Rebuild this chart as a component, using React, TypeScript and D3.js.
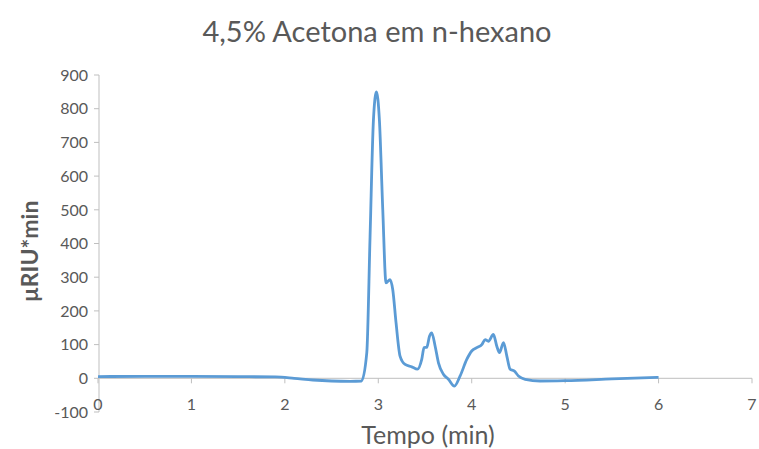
import React from 'react';
import * as d3 from 'd3';

const times = [0, 0.5, 1, 1.5, 1.9, 2.1, 2.3, 2.5, 2.7, 2.82, 2.877, 2.912, 2.948, 2.98, 3.012, 3.048, 3.083, 3.126, 3.155, 3.19, 3.233, 3.287, 3.358, 3.419, 3.465, 3.49, 3.519, 3.548, 3.572, 3.608, 3.644, 3.697, 3.751, 3.815, 3.876, 3.947, 4.0, 4.054, 4.108, 4.143, 4.179, 4.232, 4.268, 4.297, 4.34, 4.376, 4.411, 4.454, 4.5, 4.572, 4.732, 5.0, 5.5, 6.0];
const signal = [5, 6, 6, 5, 4, 0, -5, -8, -9, -8, 76, 421, 766, 850, 766, 500, 283, 293, 263, 165, 66, 41, 34, 27, 56, 91, 92, 125, 135, 96, 46, 12, -3, -23, 7, 56, 81, 91, 100, 115, 110, 130, 96, 76, 106, 66, 27, 22, 7, -3, -8, -7, -2, 3];
const xTicks = [0, 1, 2, 3, 4, 5, 6, 7];
const yTicks = [-100, 0, 100, 200, 300, 400, 500, 600, 700, 800, 900];

const W = 759;
const H = 449;
const margin = { left: 99, right: 7, top: 75, bottom: 37 };

export default function App() {
  const x = d3.scaleLinear().domain([0, 7]).range([margin.left - 1, W - margin.right]);
  const y = d3.scaleLinear().domain([-100, 900]).range([H - margin.bottom, margin.top]);
  const pts = times.map((t, i) => [t, signal[i]] as [number, number]);
  const line = d3.line<[number, number]>()
    .x(d => x(d[0]))
    .y(d => y(d[1]))
    .curve(d3.curveMonotoneX);

  const font = 'Lato, "Open Sans", sans-serif';
  const axisX = margin.left;

  return (
    <svg width={W} height={H} style={{ position: 'absolute', left: 0, top: 0, background: '#fff' }} fontFamily={font}>
      <text x={377} y={42} textAnchor="middle" fontSize={29} fill="#595959">4,5% Acetona em n-hexano</text>

      {/* y axis */}
      <line x1={axisX} x2={axisX} y1={y(900)} y2={y(-100)} stroke="#BFBFBF" strokeWidth={1} />
      {yTicks.map(v => (
        <g key={v}>
          <line x1={axisX - 5} x2={axisX} y1={y(v)} y2={y(v)} stroke="#BFBFBF" />
          <text x={axisX - 11} y={y(v)} dy="0.36em" textAnchor="end" fontSize={16} fill="#595959">{v}</text>
        </g>
      ))}

      {/* x axis at zero */}
      <line x1={axisX} x2={x(7)} y1={y(0)} y2={y(0)} stroke="#BFBFBF" strokeWidth={1} />
      {xTicks.map(v => (
        <g key={v}>
          <line x1={x(v)} x2={x(v)} y1={y(0)} y2={y(0) + 5} stroke="#BFBFBF" />
          <text x={x(v)} y={y(-100) - 2} textAnchor="middle" fontSize={16} fill="#595959">{v}</text>
        </g>
      ))}

      <path d={line(pts) || ''} fill="none" stroke="#5B9BD5" strokeWidth={2.8} strokeLinejoin="round" />

      <text x={428} y={444} textAnchor="middle" fontSize={25} fill="#595959">Tempo (min)</text>
      <text transform={`translate(38,${(y(900) + y(-100)) / 2 + 8}) rotate(-90)`} textAnchor="middle" fontSize={23} fontWeight="bold" fill="#595959">µRIU*min</text>
    </svg>
  );
}
